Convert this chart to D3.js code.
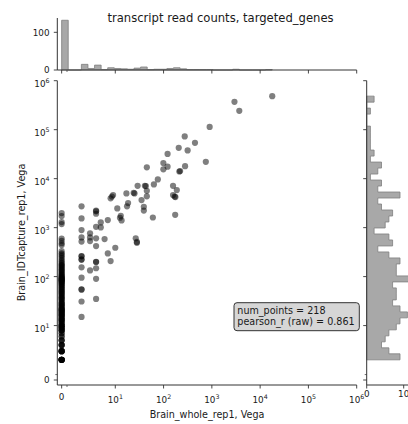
<!DOCTYPE html>
<html><head><meta charset="utf-8">
<script src="https://cdn.jsdelivr.net/npm/d3@7"></script>
<style>
body{margin:0;background:#fff}
svg{display:block}
text{font-family:"DejaVu Sans",sans-serif;fill:#1a1a1a}
</style>
</head><body>
<svg id="chart" width="408" height="424"></svg>
<script>
// ---------------- data ----------------
const titleText = "transcript read counts, targeted_genes";
const xLabelText = "Brain_whole_rep1, Vega";
const yLabelText = "Brain_IDTcapture_rep1, Vega";
const statLines = ["num_points = 218", "pearson_r (raw) = 0.861"];

const majorTicks = [0, 10, 100, 1000, 10000, 100000, 1000000];
const majorTickExp = [null, 1, 2, 3, 4, 5, 6];
const minorTicks = [1];
const topHistTicks = [0, 100];
const rightHistTicks = [0, 10];

// genes with zero reads in Brain_whole_rep1 (x = 0): their y values
const zeroXYCounts = [
  2,2,2,2,2,2,2,2,2, 3,3,3,3,3,3, 4,4,4,4, 5,5,5, 6,6, 7,7, 8,8,8,8, 9,9,9,9, 10,10,10,10,
  11,11,12,12,13,13,13,
  14,14,15,15,16,16,17,17,18,18,19,19,20,20,21,
  21,22,22,23,24,25,26,27,28,29,30,
  32,34,35,37,38,40,42,44,46,48,50,
  52,55,57,60,62,65,68,70,73,76,78,80,82,86,90,95,
  84,88,92,96,100,104,108,112,118,124,130,
  136,142,150,158,165,172,180,190,
  205,220,240,260,280,300,330,
  440,480,540,600,
  1180,1300,1720,1980
];

// genes detected in both
const detX = [
  17800, 2940, 3700, 900, 274, 447, 206, 315, 121, 750, 99, 121, 45, 99, 279,
  220, 212, 76, 63, 29, 41, 43, 45, 24, 25, 45, 35, 157, 188, 157, 170, 176,
  39, 39, 60, 174, 26.5, 28, 28,
  9, 8.5, 8, 17, 18.4, 17.5, 11, 13, 12.5, 13.5,
  2,2,2,2,2,2,2,2,2,2,2,2,2,2,2,
  3,3,3,3,
  4,4,4,4,4,4,4,4,4,4,
  5,5,6,4,
  7,10,7,8
];
const detY = [
  484000, 370000, 243000, 114000, 72800, 54000, 42600, 37700, 32000, 22100, 20800, 17600, 17000, 15500, 18000,
  14300, 14000, 9660, 7640, 7150, 7150, 7050, 5650, 5140, 5000, 4350, 3650, 7150, 5850, 4620, 4300, 4200,
  2670, 2230, 1610, 1830, 604, 510, 490,
  4620, 4300, 3960, 5000, 3170, 2720, 2470, 1750, 1590, 1400,
  2720,1545,890,632,520,263,260,225,220,155,95,55,54,31,15,
  764,632,532,134,
  2230,2150,1920,1040,420,201,198,148,90,35,
  1280,1010,585,604,
  1425,388,298,208
];

// ---------------- build ----------------
const points = zeroXYCounts.map(v => ({x: 0, y: v}))
  .concat(detX.map((v, i) => ({x: v, y: detY[i]})));

const LIN = 0.1 / 0.9;                 // symlog, linthresh 1, linscale 0.1
const symT = v => v <= 1 ? v * LIN : LIN + Math.log10(v);

const svg = d3.select("#chart");
const M = {l: 57.3, r: 356.7, t: 80.7, b: 385};

const xs = d3.scaleLinear().domain([-0.09, symT(1e6)]).range([M.l, M.r]);
const ys = d3.scaleLinear().domain([-0.102, symT(1e6)]).range([M.b, M.t]);
const X = v => xs(symT(v));
const Y = v => ys(symT(v));

const topY = d3.scaleLinear().domain([0, 138]).range([70, 18]);
const rightX = d3.scaleLinear().domain([0, 10]).range([366.7, 403.7]);

const spine = "#333";
const tickFont = 8.8;

// histograms (bins in transformed space)
const fxVals = points.map(p => symT(p.x));
const fyVals = points.map(p => symT(p.y));
const fxExt = d3.extent(fxVals), fyExt = d3.extent(fyVals);
const nbx = 32, nby = 44;
const thrX = d3.range(1, nbx).map(i => fxExt[0] + (fxExt[1] - fxExt[0]) * i / nbx);
const thrY = d3.range(1, nby).map(i => fyExt[0] + (fyExt[1] - fyExt[0]) * i / nby);
const binsX = d3.bin().domain(fxExt).thresholds(thrX)(fxVals);
const binsY = d3.bin().domain(fyExt).thresholds(thrY)(fyVals);

const histFill = "#a8a8a8", histStroke = "#7f7f7f";

// top: step outline
const topPath = d3.path();
topPath.moveTo(xs(binsX[0].x0), topY(0));
binsX.forEach(b => { topPath.lineTo(xs(b.x0), topY(b.length)); topPath.lineTo(xs(b.x1), topY(b.length)); });
topPath.lineTo(xs(binsX[binsX.length - 1].x1), topY(0));
topPath.closePath();
svg.append("path").attr("d", topPath.toString())
  .attr("fill", histFill).attr("stroke", histStroke).attr("stroke-width", 0.8);

// right: step outline
const rPath = d3.path();
rPath.moveTo(rightX(0), ys(binsY[0].x0));
binsY.forEach(b => { rPath.lineTo(rightX(b.length), ys(b.x0)); rPath.lineTo(rightX(b.length), ys(b.x1)); });
rPath.lineTo(rightX(0), ys(binsY[binsY.length - 1].x1));
rPath.closePath();
svg.append("path").attr("d", rPath.toString())
  .attr("fill", histFill).attr("stroke", histStroke).attr("stroke-width", 0.8);

// scatter
svg.append("g").selectAll("circle").data(points).join("circle")
  .attr("cx", p => X(p.x)).attr("cy", p => Y(p.y)).attr("r", 3.1)
  .attr("fill", "#000").attr("fill-opacity", 0.5);

// ---------------- axes ----------------
function line(x1, y1, x2, y2, w) {
  svg.append("line").attr("x1", x1).attr("y1", y1).attr("x2", x2).attr("y2", y2)
    .attr("stroke", spine).attr("stroke-width", w || 1);
}
function powLabel(g, i) {
  if (majorTickExp[i] === null) { g.text("0"); return; }
  g.append("tspan").text("10");
  g.append("tspan").attr("dy", -4).attr("font-size", 6.3).text(majorTickExp[i]);
}

// main axes spines
line(M.l, M.t, M.l, M.b);
line(M.l, M.b, M.r, M.b);
// main x ticks
majorTicks.forEach((v, i) => {
  line(X(v), M.b, X(v), M.b + 3.5, 0.9);
  const t = svg.append("text").attr("x", X(v)).attr("y", v === 0 ? 400 : 403)
    .attr("text-anchor", "middle").attr("font-size", tickFont);
  powLabel(t, i);
});
minorTicks.forEach(v => line(X(v), M.b, X(v), M.b + 2, 0.7));
// main y ticks
majorTicks.forEach((v, i) => {
  line(M.l - 3.5, Y(v), M.l, Y(v), 0.9);
  const t = svg.append("text").attr("x", 49.5).attr("y", Y(v) + (v === 0 ? 3.2 : 6.3))
    .attr("text-anchor", "end").attr("font-size", tickFont);
  powLabel(t, i);
});
minorTicks.forEach(v => line(M.l - 2, Y(v), M.l, Y(v), 0.7));

// top histogram axes
line(M.l, 18, M.l, 70);
line(M.l, 70, M.r, 70);
majorTicks.forEach(v => line(X(v), 70, X(v), 73.5, 0.9));
minorTicks.forEach(v => line(X(v), 70, X(v), 72, 0.7));
topHistTicks.forEach(c => {
  line(M.l - 3.5, topY(c), M.l, topY(c), 0.9);
  svg.append("text").attr("x", 49.5).attr("y", topY(c) + 3.2)
    .attr("text-anchor", "end").attr("font-size", tickFont).text(c);
});

// right histogram axes
const rx0 = rightX(0);
line(rx0, M.t, rx0, M.b);
line(rx0, M.b, 408, M.b);
majorTicks.forEach(v => line(rx0 - 3.5, Y(v), rx0, Y(v), 0.9));
minorTicks.forEach(v => line(rx0 - 2, Y(v), rx0, Y(v), 0.7));
rightHistTicks.forEach(c => {
  line(rightX(c), M.b, rightX(c), M.b + 3.5, 0.9);
  svg.append("text").attr("x", rightX(c)).attr("y", 397)
    .attr("text-anchor", "middle").attr("font-size", tickFont).text(c);
});

// labels
svg.append("text").attr("x", 220.5).attr("y", 22).attr("text-anchor", "middle")
  .attr("font-size", 11.6).text(titleText);
svg.append("text").attr("x", 207).attr("y", 418).attr("text-anchor", "middle")
  .attr("font-size", 9.6).text(xLabelText);
svg.append("text").attr("transform", "translate(25,232.5) rotate(-90)")
  .attr("text-anchor", "middle").attr("font-size", 9.6).text(yLabelText);

// stats box
svg.append("rect").attr("x", 234).attr("y", 302.7).attr("width", 125.3).attr("height", 28)
  .attr("rx", 3).attr("fill", "#d6d6d6").attr("stroke", "#333").attr("stroke-width", 1);
statLines.forEach((s, i) => {
  svg.append("text").attr("x", 237.3).attr("y", 314 + i * 11.2)
    .attr("font-size", 9.6).text(s);
});
</script>
</body></html>
